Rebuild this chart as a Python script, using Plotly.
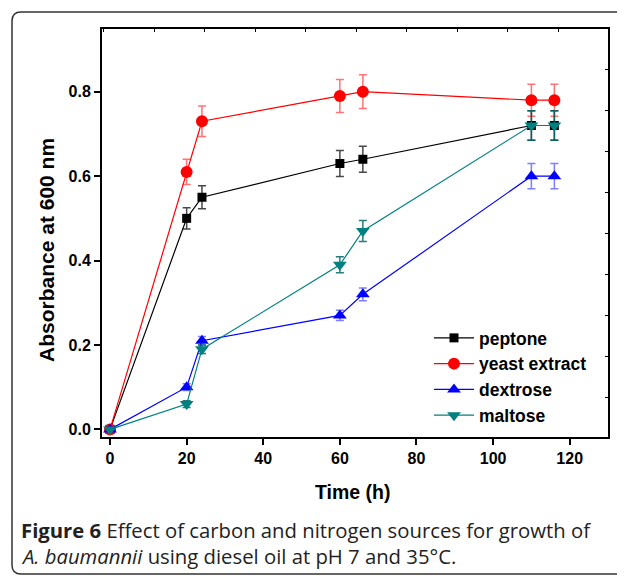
import plotly.graph_objects as go

# ---- data ----
time_h = [0, 20, 24, 60, 66, 110, 116]
peptone = [0.0, 0.50, 0.55, 0.63, 0.64, 0.72, 0.72]
peptone_err = [0.0, 0.025, 0.027, 0.031, 0.031, 0.035, 0.035]
yeast = [0.0, 0.61, 0.73, 0.79, 0.80, 0.78, 0.78]
yeast_err = [0.0, 0.03, 0.036, 0.039, 0.040, 0.038, 0.038]
dextrose = [0.0, 0.10, 0.21, 0.27, 0.32, 0.60, 0.60]
dextrose_err = [0.0, 0.008, 0.01, 0.012, 0.015, 0.03, 0.03]
maltose = [0.0, 0.06, 0.19, 0.39, 0.47, 0.72, 0.72]
maltose_err = [0.0, 0.008, 0.01, 0.019, 0.025, 0.035, 0.035]

series_names = ["peptone", "yeast extract", "dextrose", "maltose"]
x_ticks = [0, 20, 40, 60, 80, 100, 120]
y_ticks = [0.0, 0.2, 0.4, 0.6, 0.8]

W, H = 625, 579
OFF = 8  # page body margin; layout pixel = page pixel - OFF
L, R, T, B = 102 - OFF, 608 - OFF, 29 - OFF, 437 - OFF  # plot area (figure pixels)


def px(x):  # page pixel -> paper x
    return (x - OFF - L) / (R - L)


def py(y):  # page pixel -> paper y
    return (B - (y - OFF)) / (B - T)


fig = go.Figure()

styles = [
    (peptone, peptone_err, "black", "square", 9, "rgba(40,40,40,0.85)"),
    (yeast, yeast_err, "#ff0000", "circle", 12, "rgba(255,40,40,0.65)"),
    (dextrose, dextrose_err, "#0000ff", "triangle-up", 12, "rgba(40,40,255,0.6)"),
    (maltose, maltose_err, "#008080", "triangle-down", 12, "rgba(0,100,100,0.85)"),
]
for name, (yv, ev, col, sym, sz, ecol) in zip(series_names, styles):
    fig.add_trace(go.Scatter(
        x=time_h, y=yv, name=name, mode="lines+markers",
        line=dict(color=col, width=1.2),
        marker=dict(color=col, symbol=sym, size=sz),
        error_y=dict(type="data", array=ev, visible=True, color=ecol,
                     thickness=1.5, width=4),
    ))

# invisible trace for the secondary (top/right) frame ticks
fig.add_trace(go.Scatter(x=[L], y=[B], xaxis="x2", yaxis="y2", mode="markers",
                         marker=dict(opacity=0), showlegend=False, hoverinfo="skip"))

tickfont = dict(family="Liberation Sans, Arial", size=16, color="black", weight="bold")

fig.update_layout(
    width=W, height=H,
    margin=dict(l=L, r=W - R, t=T, b=H - B, pad=0),
    paper_bgcolor="white", plot_bgcolor="white",
    showlegend=True,
    legend=dict(
        x=px(429), y=py(320), xanchor="left", yanchor="top",
        font=dict(family="Liberation Sans, Arial", size=17.5, color="black", weight="bold"),
        bgcolor="rgba(0,0,0,0)", tracegroupgap=0, itemwidth=40,
    ),
    xaxis=dict(
        range=[-2.1, 130], tickvals=x_ticks, ticktext=[str(v) for v in x_ticks],
        ticks="outside", ticklen=6, tickwidth=1.5, tickcolor="black",
        showline=True, linecolor="black", linewidth=2, mirror=True,
        showgrid=False, zeroline=False, tickfont=tickfont,
    ),
    yaxis=dict(
        range=[-0.018, 0.9486], tickvals=y_ticks, ticktext=[f"{v:.1f}" for v in y_ticks],
        ticks="outside", ticklen=6, tickwidth=1.5, tickcolor="black",
        showline=True, linecolor="black", linewidth=2, mirror=True,
        showgrid=False, zeroline=False, tickfont=tickfont,
    ),
    xaxis2=dict(overlaying="x", side="top", anchor="y2", range=[L, R],
                tick0=154 - OFF, dtick=50.5, ticks="inside", ticklen=3, tickcolor="black",
                showticklabels=False, showgrid=False, zeroline=False, showline=False),
    yaxis2=dict(overlaying="y", side="right", anchor="x2", range=[B, T],
                tick0=110.7 - OFF, dtick=41, ticks="inside", ticklen=3, tickcolor="black",
                showticklabels=False, showgrid=False, zeroline=False, showline=False),
)

titlefont_x = dict(family="Liberation Sans, Arial", size=19.5, color="black", weight="bold")
titlefont_y = dict(family="Liberation Sans, Arial", size=21, color="black", weight="bold")
fig.add_annotation(xref="paper", yref="paper", x=px(352), y=py(492), xanchor="center", yanchor="middle",
                   text="Time (h)", showarrow=False, font=titlefont_x)
fig.add_annotation(xref="paper", yref="paper", x=px(46), y=py(250), xanchor="center", yanchor="middle",
                   text="Absorbance at 600 nm", textangle=-90, showarrow=False, font=titlefont_y)

# outer rounded frame (figure panel border)
r = 9
x0, y0, x1, y1 = 12, 12, 650, 574
path = (f"M {px(x0)},{py(y0 + r)} Q {px(x0)},{py(y0)} {px(x0 + r)},{py(y0)} "
        f"L {px(x1)},{py(y0)} L {px(x1)},{py(y1)} L {px(x0 + r)},{py(y1)} "
        f"Q {px(x0)},{py(y1)} {px(x0)},{py(y1 - r)} Z")
fig.add_shape(type="path", xref="paper", yref="paper", path=path,
              line=dict(color="#333333", width=1.5), fillcolor="rgba(0,0,0,0)", layer="below")

capfont = dict(family="Open Sans", size=20.3, color="#222222")
fig.add_annotation(xref="paper", yref="paper", x=px(19), y=py(530), xanchor="left", yanchor="middle",
                   text="<b>Figure 6</b> Effect of carbon and nitrogen sources for growth of",
                   showarrow=False, font=capfont)
fig.add_annotation(xref="paper", yref="paper", x=px(19), y=py(556), xanchor="left", yanchor="middle",
                   text="<i>A. baumannii</i> using diesel oil at pH 7 and 35°C.",
                   showarrow=False, font=capfont)

fig.write_html("out.html")
